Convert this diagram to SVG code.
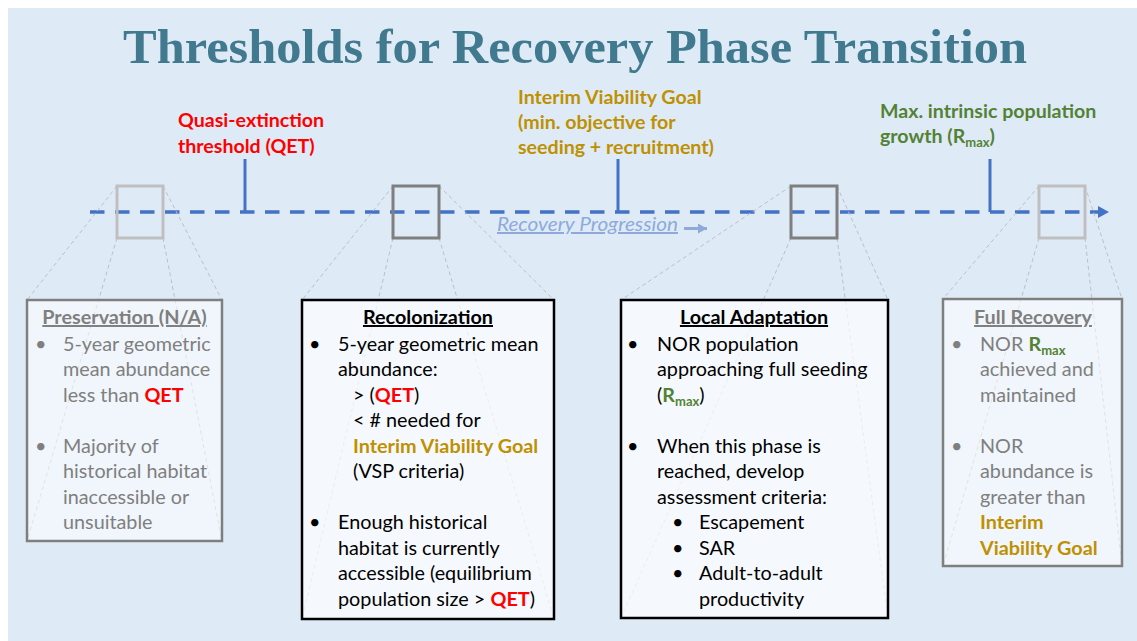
<svg xmlns="http://www.w3.org/2000/svg" width="1137" height="641" viewBox="0 0 1137 641">
<defs>
<style>
.t{font-family:Lato,"Open Sans","Liberation Sans",sans-serif;font-size:19.8px}
.hd{font-weight:bold;text-decoration:underline;text-anchor:middle}
.gr{fill:#7f7f7f}
.bk{fill:#000}
.red{fill:#ff0000;font-weight:bold}
.gold{fill:#bf9000;font-weight:bold}
.grn{fill:#548235;font-weight:bold}
.lbl{font-family:Lato,"Open Sans","Liberation Sans",sans-serif;font-size:19.6px;font-weight:bold}
.zl{stroke:#bfbfbf;stroke-width:1;stroke-dasharray:4 3;fill:none}
.tick{stroke:#4472c4;stroke-width:3}
.sb{fill:none;stroke-width:3}
</style>
<marker id="ah" markerWidth="12" markerHeight="12" refX="11" refY="6" orient="auto" markerUnits="userSpaceOnUse">
<path d="M0,0 L11,6 L0,12 Z" fill="#4472c4"/>
</marker>
<marker id="ah2" markerWidth="10" markerHeight="10" refX="9" refY="5" orient="auto" markerUnits="userSpaceOnUse">
<path d="M0,0 L9,5 L0,10 Z" fill="#8eaadb"/>
</marker>
</defs>
<rect x="0" y="0" width="1137" height="641" fill="#ffffff"/>
<rect x="8" y="8" width="1129" height="633" fill="#deebf7"/>

<text x="575" y="63" text-anchor="middle" font-family="'Liberation Serif',serif" font-weight="bold" font-size="48" fill="#41798f" textLength="904" lengthAdjust="spacingAndGlyphs">Thresholds for Recovery Phase Transition</text>

<g id="connectors">
<line x1="90" y1="212" x2="1109" y2="212" stroke="#4472c4" stroke-width="3.5" stroke-dasharray="14.5 10.5" marker-end="url(#ah)"/>
<line class="tick" x1="245" y1="159" x2="245" y2="212"/>
<line class="tick" x1="618" y1="159" x2="618" y2="212"/>
<line class="tick" x1="990" y1="159" x2="990" y2="212"/>
<line x1="684" y1="228.5" x2="707" y2="228.5" stroke="#8eaadb" stroke-width="3" marker-end="url(#ah2)"/>
<path class="zl" d="M117,186 L27,300 M163,186 L222,300 M117,238 L27,541 M163,238 L222,541"/>
<path class="zl" d="M393,186 L302,300 M439,186 L554,300 M393,238 L302,619 M439,238 L554,619"/>
<path class="zl" d="M791,186 L621,300 M837,186 L888,300 M791,238 L621,618 M837,238 L888,618"/>
<path class="zl" d="M1039,186 L943,299 M1085,186 L1122,299 M1039,238 L943,566 M1085,238 L1122,566"/>
</g>

<g id="recovery-progression">
<text x="497" y="231" font-family="Lato,'Open Sans','Liberation Sans',sans-serif" font-size="20" font-style="italic" fill="#8eaadb" text-decoration="underline" textLength="181" lengthAdjust="spacingAndGlyphs">Recovery Progression</text>
</g>

<g id="marker-qet">
<text class="lbl" fill="#ff0000"><tspan x="178" y="127">Quasi-extinction</tspan><tspan x="178" y="153">threshold (QET)</tspan></text>
</g>
<g id="marker-ivg">
<text class="lbl" fill="#bf9000"><tspan x="518" y="104">Interim Viability Goal</tspan><tspan x="518" y="129">(min. objective for</tspan><tspan x="518" y="154">seeding + recruitment)</tspan></text>
</g>
<g id="marker-rmax">
<text class="lbl" fill="#548235"><tspan x="880" y="118">Max. intrinsic population</tspan><tspan x="880" y="143">growth (R</tspan><tspan font-size="13" dy="4">max</tspan><tspan dy="-4">)</tspan></text>
</g>

<g id="small-boxes">
<rect class="sb" x="117" y="186" width="46" height="52" stroke="#bfbfbf"/>
<rect class="sb" x="393" y="186" width="46" height="52" stroke="#7f7f7f"/>
<rect class="sb" x="791" y="186" width="46" height="52" stroke="#7f7f7f"/>
<rect class="sb" x="1039" y="186" width="46" height="52" stroke="#bfbfbf"/>
</g>

<g id="preservation">
<rect x="27" y="300" width="195" height="241" fill="#ffffff" fill-opacity="0.55" stroke="#7f7f7f" stroke-width="2.5"/>
<text class="t hd gr" x="124.5" y="324">Preservation (N/A)</text>
<text class="t gr"><tspan x="35" y="350.5">•</tspan><tspan x="63" y="350.5">5-year geometric</tspan><tspan x="63" y="376">mean abundance</tspan><tspan x="63" y="401.5">less than </tspan><tspan class="red">QET</tspan></text>
<text class="t gr"><tspan x="35" y="452.5">•</tspan><tspan x="63" y="452.5">Majority of</tspan><tspan x="63" y="478">historical habitat</tspan><tspan x="63" y="503.5">inaccessible or</tspan><tspan x="63" y="529">unsuitable</tspan></text>
</g>

<g id="recolonization">
<rect x="302" y="300" width="252" height="319" fill="#ffffff" fill-opacity="0.7" stroke="#000" stroke-width="2.5"/>
<text class="t hd bk" x="428" y="324">Recolonization</text>
<text class="t bk"><tspan x="309" y="350.5">•</tspan><tspan x="338" y="350.5">5-year geometric mean</tspan><tspan x="338" y="376">abundance:</tspan><tspan x="353" y="401.5">&gt; (</tspan><tspan class="red">QET</tspan><tspan>)</tspan><tspan x="353" y="427">&lt; # needed for</tspan><tspan x="353" y="452.5" class="gold">Interim Viability Goal</tspan><tspan x="353" y="478">(VSP criteria)</tspan></text>
<text class="t bk"><tspan x="309" y="529">•</tspan><tspan x="338" y="529">Enough historical</tspan><tspan x="338" y="554.5">habitat is currently</tspan><tspan x="338" y="580">accessible (equilibrium</tspan><tspan x="338" y="605.5">population size &gt; </tspan><tspan class="red">QET</tspan><tspan>)</tspan></text>
</g>

<g id="local-adaptation">
<rect x="621" y="300" width="267" height="318" fill="#ffffff" fill-opacity="0.7" stroke="#000" stroke-width="2.5"/>
<text class="t hd bk" x="754" y="324">Local Adaptation</text>
<text class="t bk"><tspan x="627" y="350.5">•</tspan><tspan x="657" y="350.5">NOR population</tspan><tspan x="657" y="376">approaching full seeding</tspan><tspan x="657" y="401.5">(</tspan><tspan class="grn">R</tspan><tspan class="grn" font-size="13" dy="4">max</tspan><tspan dy="-4">)</tspan></text>
<text class="t bk"><tspan x="627" y="452.5">•</tspan><tspan x="657" y="452.5">When this phase is</tspan><tspan x="657" y="478">reached, develop</tspan><tspan x="657" y="503.5">assessment criteria:</tspan><tspan x="672" y="529">•</tspan><tspan x="699" y="529">Escapement</tspan><tspan x="672" y="554.5">•</tspan><tspan x="699" y="554.5">SAR</tspan><tspan x="672" y="580">•</tspan><tspan x="699" y="580">Adult-to-adult</tspan><tspan x="699" y="605.5">productivity</tspan></text>
</g>

<g id="full-recovery">
<rect x="943" y="299" width="179" height="267" fill="#ffffff" fill-opacity="0.55" stroke="#7f7f7f" stroke-width="2.5"/>
<text class="t hd gr" x="1033" y="324">Full Recovery</text>
<text class="t gr"><tspan x="951" y="350.5">•</tspan><tspan x="980" y="350.5">NOR </tspan><tspan class="grn">R</tspan><tspan class="grn" font-size="13" dy="4">max</tspan><tspan x="980" y="376">achieved and</tspan><tspan x="980" y="401.5">maintained</tspan></text>
<text class="t gr"><tspan x="951" y="452.5">•</tspan><tspan x="980" y="452.5">NOR</tspan><tspan x="980" y="478">abundance is</tspan><tspan x="980" y="503.5">greater than</tspan><tspan x="980" y="529" class="gold">Interim</tspan><tspan x="980" y="554.5" class="gold">Viability Goal</tspan></text>
</g>
</svg>
